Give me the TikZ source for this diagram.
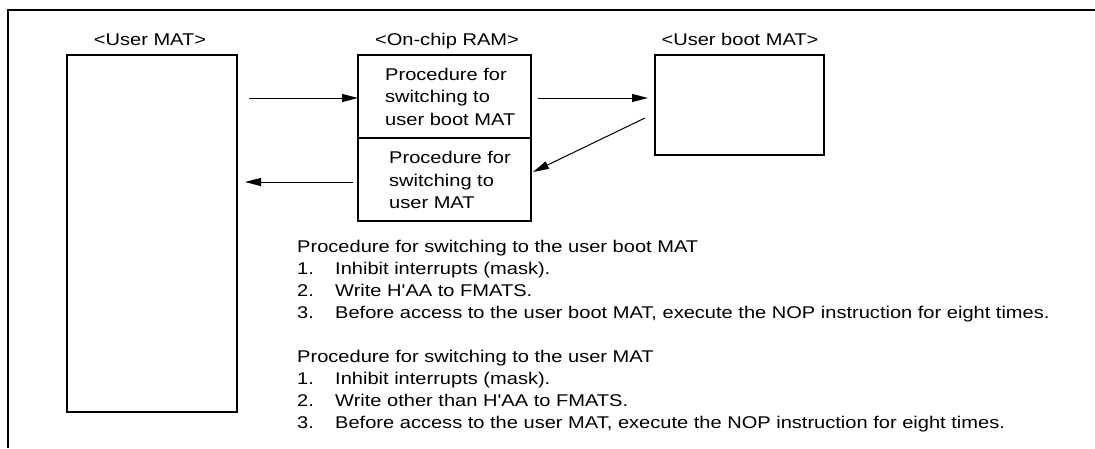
\documentclass[tikz,border=0pt]{standalone}
\usepackage{fontspec}
\setmainfont{Liberation Sans}[FakeStretch=1.18, Ligatures=TeXOff]
\usetikzlibrary{arrows.meta}
\begin{document}
\begin{tikzpicture}[x=1pt,y=-1pt,
  txt/.style={anchor=base west, inner sep=0pt, font=\fontsize{17}{22}\selectfont},
  ttl/.style={anchor=base, inner sep=0pt, font=\fontsize{17}{22}\selectfont},
  box/.style={draw, line width=2pt, anchor=north west, inner sep=0pt, outer sep=0pt},
  arr/.style={-{Triangle[length=16pt,width=8pt]}, line width=1pt}]
\useasboundingbox (0,0) rectangle (1095,448);
% frame
\draw[line width=2.5pt, line join=miter] (8,448) -- (8,10) -- (1095,10);
% boxes
\node[box, minimum width=170pt, minimum height=357pt] (umat) at (67,55) {};
\node[box, minimum width=173pt, minimum height=83pt] (ramA) at (358,55) {};
\node[box, minimum width=173pt, minimum height=83pt] (ramB) at (358,138) {};
\node[box, minimum width=169pt, minimum height=100pt] (boot) at (655,55) {};
% titles
\node[ttl] (t1) at (150,45) {<User MAT>};
\node[ttl] (t2) at (447,45) {<On-chip RAM>};
\node[ttl] (t3) at (740,45) {<User boot MAT>};
% box texts
\node[txt] (ra1) at (385,80) {Procedure for};
\node[txt] (ra2) at (385,102.5) {switching to};
\node[txt] (ra3) at (385,125) {user boot MAT};
\node[txt] (rb1) at (389,163) {Procedure for};
\node[txt] (rb2) at (389,186) {switching to};
\node[txt] (rb3) at (389,208) {user MAT};
% arrows
\coordinate (a1s) at (249,98);
\draw[arr] (a1s) -- (a1s -| ramA.west);
\coordinate (a2s) at (538,98);
\coordinate (a2e) at (648,98);
\draw[arr] (a2s) -- (a2e);
\coordinate (a3s) at (645,118);
\coordinate (a3e) at (533,172);
\draw[arr] (a3s) -- (a3e);
\coordinate (a4s) at (353,182);
\coordinate (a4e) at (245,182);
\draw[arr] (a4s) -- (a4e);
% procedure text
\node[txt] (p1) at (297,252) {Procedure for switching to the user boot MAT};
\node[txt] (p1n1) at (297,274) {1.};
\node[txt] (p1i1) at (335,274) {Inhibit interrupts (mask).};
\node[txt] (p1n2) at (297,296) {2.};
\node[txt] (p1i2) at (335,296) {Write H'AA to FMATS.};
\node[txt] (p1n3) at (297,318) {3.};
\node[txt] (p1i3) at (335,318) {Before access to the user boot MAT, execute the NOP instruction for eight times.};
\node[txt] (p2) at (297,362) {Procedure for switching to the user MAT};
\node[txt] (p2n1) at (297,384) {1.};
\node[txt] (p2i1) at (335,384) {Inhibit interrupts (mask).};
\node[txt] (p2n2) at (297,406) {2.};
\node[txt] (p2i2) at (335,406) {Write other than H'AA to FMATS.};
\node[txt] (p2n3) at (297,428) {3.};
\node[txt] (p2i3) at (335,428) {Before access to the user MAT, execute the NOP instruction for eight times.};
\end{tikzpicture}
\end{document}
